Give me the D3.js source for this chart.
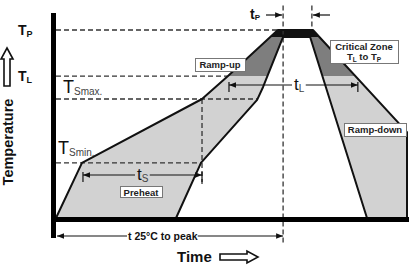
<!DOCTYPE html>
<html>
<head>
<meta charset="utf-8">
<script src="https://cdn.jsdelivr.net/npm/d3@7/dist/d3.min.js"></script>
<style>
  body { margin: 0; background: #fff; }
  svg { display: block; font-family: "Liberation Sans", Arial, sans-serif; }
</style>
</head>
<body>
<div id="chart"></div>
<script>
// temperature levels (schematic units, TP = 100)
const levelNames = ["TP", "TL", "TSmax", "TSmin"];
const levelValues = [100, 75.5, 63.3, 29.3];
const levelDashEnd = [64.7, 49, 57.3, 41.3];

// outer (fastest) profile, time / temperature
const outerTime = [0, 7.4, 41.6, 49, 63.2, 73.2, 100, 100];
const outerTemp = [0, 29.3, 63.3, 75.5, 100, 100, 45.7, 0];
// inner (slowest) profile, right foot -> peak -> left foot
const innerTime = [88.6, 72.4, 64.7, 59, 57.3, 41.3, 34.2];
const innerTemp = [0, 96.3, 96.3, 69.7, 62.8, 29.3, 0];

const tpLeft = 64.7, tpRight = 72.9;
const tsStart = 7.4, tsEnd = 41.6;
const tlStart = 49, tlEnd = 86;

const width = 411, height = 266;
const svg = d3.select("#chart").append("svg")
  .attr("width", width).attr("height", height);

const x = d3.scaleLinear().domain([0, 100]).range([56, 407]);
const y = d3.scaleLinear().domain([0, 100]).range([218, 30]);

const defs = svg.append("defs");
defs.append("clipPath").attr("id", "aboveTL")
  .append("rect").attr("x", 0).attr("y", 0).attr("width", width).attr("height", y(levelValues[1]));
defs.append("clipPath").attr("id", "aboveInner")
  .append("rect").attr("x", 0).attr("y", 0).attr("width", width).attr("height", y(96.3));
["end", "start"].forEach(k => {
  defs.append("marker").attr("id", "arr-" + k)
    .attr("viewBox", "0 0 10 10").attr("refX", 10).attr("refY", 5)
    .attr("markerWidth", 7).attr("markerHeight", 7)
    .attr("markerUnits", "userSpaceOnUse")
    .attr("orient", k == "end" ? "auto" : "auto-start-reverse")
    .append("path").attr("d", "M0,1 L10,5 L0,9 Z").attr("fill", "#111");
});

// profile band
const pts = outerTime.map((t, i) => [x(t), y(outerTemp[i])])
  .concat(innerTime.map((t, i) => [x(t), y(innerTemp[i])]));
const band = d3.line()(pts) + "Z";

svg.append("path").attr("d", band).attr("fill", "#d2d2d2");
svg.append("path").attr("d", band).attr("fill", "#7e7e7e").attr("clip-path", "url(#aboveTL)");
svg.append("path").attr("d", band).attr("fill", "#111").attr("clip-path", "url(#aboveInner)");

// dashed guides
const dash = svg.append("g").attr("stroke", "#333").attr("stroke-width", 1.3)
  .attr("stroke-dasharray", "5,3").attr("fill", "none");
levelValues.forEach((v, i) => {
  dash.append("line").attr("x1", x(0)).attr("x2", x(levelDashEnd[i]))
    .attr("y1", y(v)).attr("y2", y(v));
});
dash.append("line").attr("x1", x(tsEnd)).attr("x2", x(tsEnd)).attr("y1", y(levelValues[2])).attr("y2", y(18));
dash.append("line").attr("x1", x(tpLeft)).attr("x2", x(tpLeft)).attr("y1", y(113)).attr("y2", y(-13.5));
dash.append("line").attr("x1", x(tpRight)).attr("x2", x(tpRight)).attr("y1", y(113)).attr("y2", y(100));

// profile outlines
svg.append("path").attr("d", band).attr("fill", "none").attr("stroke", "#111")
  .attr("stroke-width", 2).attr("stroke-linejoin", "round");

// axes (heavy bars)
svg.append("line").attr("x1", x(0) - 2.5).attr("x2", x(0) - 2.5).attr("y1", 13).attr("y2", 238)
  .attr("stroke", "#000").attr("stroke-width", 5);
svg.append("line").attr("x1", x(0) - 5).attr("x2", 409).attr("y1", y(0) + 1.5).attr("y2", y(0) + 1.5)
  .attr("stroke", "#000").attr("stroke-width", 5);

// level labels
function subLabel(g, px, py, main, sub, o) {
  const t = g.append("text").attr("x", px).attr("y", py)
    .attr("font-size", o.size).attr("font-weight", o.weight).attr("fill", "#111");
  t.append("tspan").text(main);
  t.append("tspan").attr("dy", o.dy).attr("font-size", o.subSize)
    .attr("fill", o.subFill || "#111").text(sub);
  return t;
}
const lab = svg.append("g");
subLabel(lab, 18, y(levelValues[0]) + 5, "T", "P", {size: 14, weight: "bold", dy: 2, subSize: 9});
subLabel(lab, 18, y(levelValues[1]) + 5, "T", "L", {size: 14, weight: "bold", dy: 2, subSize: 9});
subLabel(lab, 63, y(levelValues[2]) - 6, "T", "Smax.", {size: 18, weight: "normal", dy: 2, subSize: 10, subFill: "#444"});
subLabel(lab, 58, y(levelValues[3]) - 9, "T", "Smin.", {size: 18, weight: "normal", dy: 2, subSize: 10, subFill: "#444"});

// dimension arrows with a gap for the label
function dimArrow(x1, x2, py, label, lx, o) {
  const g = svg.append("g");
  const t = subLabel(g, lx, py + o.base, label[0], label[1], o);
  const bb = t.node().getBBox();
  g.append("line").attr("x1", x1).attr("x2", bb.x - 2).attr("y1", py).attr("y2", py)
    .attr("stroke", "#111").attr("stroke-width", 1.2)
    .attr("marker-start", o.left ? "url(#arr-start)" : null);
  g.append("line").attr("x1", bb.x + bb.width + 1).attr("x2", x2).attr("y1", py).attr("y2", py)
    .attr("stroke", "#111").attr("stroke-width", 1.2)
    .attr("marker-end", o.right ? "url(#arr-end)" : null);
  if (o.ticks) {
    [x1, x2].forEach(px => g.append("line").attr("x1", px).attr("x2", px)
      .attr("y1", py - 3).attr("y2", py + 7).attr("stroke", "#111").attr("stroke-width", 1.2));
  }
}
dimArrow(x(tsStart) + 1, x(tsEnd), 175, ["t", "S"], 137,
  {size: 17, weight: "normal", dy: 2, subSize: 10, subFill: "#444", base: 5, left: true, right: true, ticks: true});
dimArrow(x(tlStart) + 1, x(tlEnd), 85, ["t", "L"], 294,
  {size: 17, weight: "normal", dy: 2, subSize: 10, subFill: "#444", base: 5, left: true, right: true, ticks: true});

// t 25°C to peak
const g25 = svg.append("g");
const t25 = g25.append("text").attr("x", 128).attr("y", 240).attr("font-size", 10.5)
  .attr("font-weight", "bold").attr("fill", "#111").text("t 25°C to peak");
const b25 = t25.node().getBBox();
g25.append("line").attr("x1", x(0) + 1).attr("x2", b25.x - 1).attr("y1", 236).attr("y2", 236)
  .attr("stroke", "#111").attr("stroke-width", 1.2).attr("marker-start", "url(#arr-start)");
g25.append("line").attr("x1", b25.x + b25.width).attr("x2", x(tpLeft)).attr("y1", 236).attr("y2", 236)
  .attr("stroke", "#111").attr("stroke-width", 1.2).attr("marker-end", "url(#arr-end)");

// tP
subLabel(svg, 250, 19, "t", "P", {size: 14, weight: "bold", dy: 1, subSize: 8});
svg.append("line").attr("x1", 266).attr("x2", x(tpLeft) - 1).attr("y1", 15).attr("y2", 15)
  .attr("stroke", "#111").attr("stroke-width", 1.2).attr("marker-end", "url(#arr-end)");
svg.append("line").attr("x1", 330).attr("x2", x(tpRight) + 1).attr("y1", 15).attr("y2", 15)
  .attr("stroke", "#111").attr("stroke-width", 1.2).attr("marker-end", "url(#arr-end)");

// boxed notes
function box(bx, by, bw, bh, lines) {
  const g = svg.append("g");
  g.append("rect").attr("x", bx + 0.5).attr("y", by + 0.5).attr("width", bw).attr("height", bh)
    .attr("fill", "#fff").attr("stroke", "#777").attr("stroke-width", 1);
  lines.forEach((ln, i) => {
    const t = g.append("text").attr("x", bx + bw / 2).attr("y", by + 10 + i * 10)
      .attr("text-anchor", "middle").attr("font-size", 9.5).attr("font-weight", "bold").attr("fill", "#222");
    ln.forEach(p => t.append("tspan").attr("font-size", p.sub ? 6.5 : 9.5)
      .attr("dy", p.sub ? 1.5 : (p.back ? -1.5 : 0)).text(p.s));
  });
}
box(195, 58, 50, 13, [[{s: "Ramp-up"}]]);
box(330, 40, 68, 23, [[{s: "Critical Zone"}],
  [{s: "T"}, {s: "L", sub: true}, {s: " to T", back: true}, {s: "P", sub: true}]]);
box(344, 123, 62, 13, [[{s: "Ramp-down"}]]);
box(120, 186, 42, 11, [[{s: "Preheat"}]]);

// axis titles with hollow arrows
svg.append("text").attr("transform", "translate(13,142) rotate(-90)")
  .attr("text-anchor", "middle").attr("font-size", 14.5).attr("font-weight", "bold")
  .attr("fill", "#111").text("Temperature");
svg.append("path").attr("d", "M4,86 L4,59 L1,59 L7,48 L13,59 L10,59 L10,86 Z")
  .attr("fill", "#fff").attr("stroke", "#111").attr("stroke-width", 1.6);
svg.append("text").attr("x", 177).attr("y", 262).attr("font-size", 15)
  .attr("font-weight", "bold").attr("fill", "#111").text("Time");
svg.append("path").attr("d", "M220,254 L247,254 L247,251 L258,257 L247,263 L247,260 L220,260 Z")
  .attr("fill", "#fff").attr("stroke", "#111").attr("stroke-width", 1.6);
</script>
</body>
</html>
